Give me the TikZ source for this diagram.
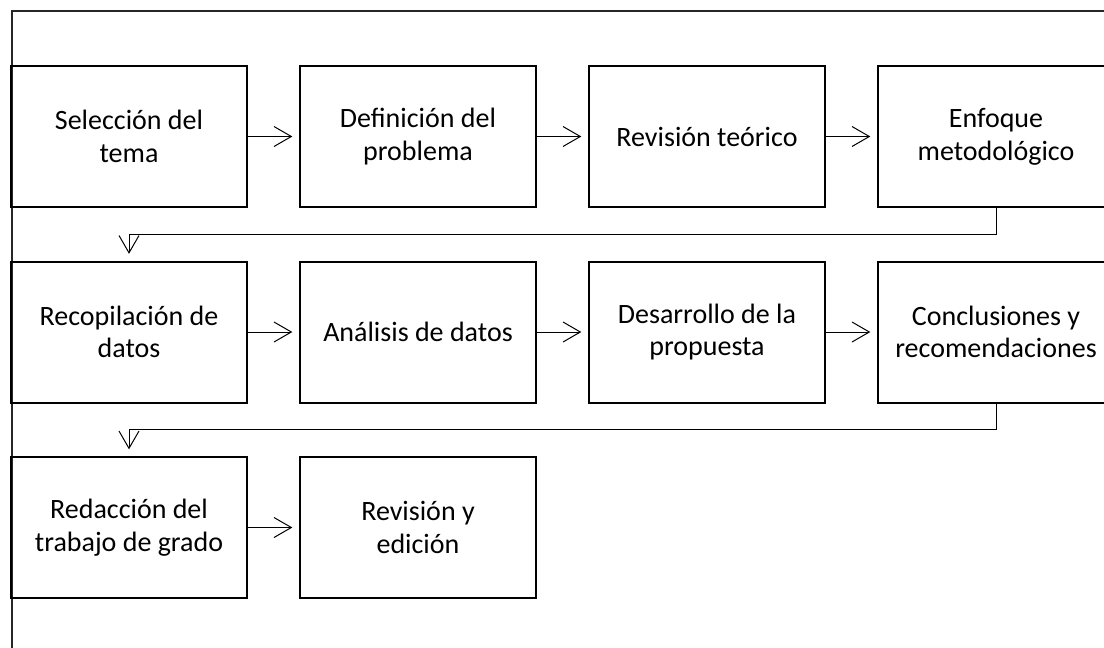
\documentclass[tikz,border=0pt]{standalone}
\usepackage{fontspec}
\setmainfont{Carlito}
\usetikzlibrary{arrows.meta,calc}
\begin{document}
\begin{tikzpicture}[x=0.75pt,y=-0.75pt,
  stepbox/.style={draw=black,line width=1.5pt,minimum width=177pt,minimum height=105.75pt,
    align=center,inner sep=2pt,font=\fontsize{21}{24.5}\selectfont},
  arr/.style={line width=0.75pt,-{Straight Barb[length=13pt,width=15pt]},shorten >=5pt},
  frameline/.style={line width=0.8pt,draw=black!85}]
\useasboundingbox (0,0) rectangle (1104,647);
\clip (0,0) rectangle (1104,647);
\coordinate (ftop) at (1110,11);
\coordinate (fcorner) at (12,11);
\coordinate (fbot) at (12,650);
\draw[frameline] (ftop) -- (fcorner) -- (fbot);
\node[stepbox] (a1) at (129,136.5) {Selección del\\tema};
\node[stepbox] (a2) at (418,136.5) {Definición del\\problema};
\node[stepbox] (a3) at (707,136.5) {Revisión teórico};
\node[stepbox] (a4) at (996,136.5) {Enfoque\\metodológico};
\node[stepbox] (b1) at (129,332) {Recopilación de\\datos};
\node[stepbox] (b2) at (418,332) {Análisis de datos};
\node[stepbox] (b3) at (707,332) {Desarrollo de la\\propuesta};
\node[stepbox] (b4) at (996,332) {Conclusiones y\\recomendaciones};
\node[stepbox] (c1) at (129,527.5) {Redacción del\\trabajo de grado};
\node[stepbox] (c2) at (418,527.5) {Revisión y\\edición};
\draw[arr] (a1) -- (a2);
\draw[arr] (a2) -- (a3);
\draw[arr] (a3) -- (a4);
\draw[arr] (b1) -- (b2);
\draw[arr] (b2) -- (b3);
\draw[arr] (b3) -- (b4);
\draw[arr] (c1) -- (c2);
\draw[arr] (a4.south) |- ($(a4.south)!.5!(b1.north)$) -| (b1.north);
\draw[arr] (b4.south) |- ($(b4.south)!.5!(c1.north)$) -| (c1.north);
\end{tikzpicture}
\end{document}
